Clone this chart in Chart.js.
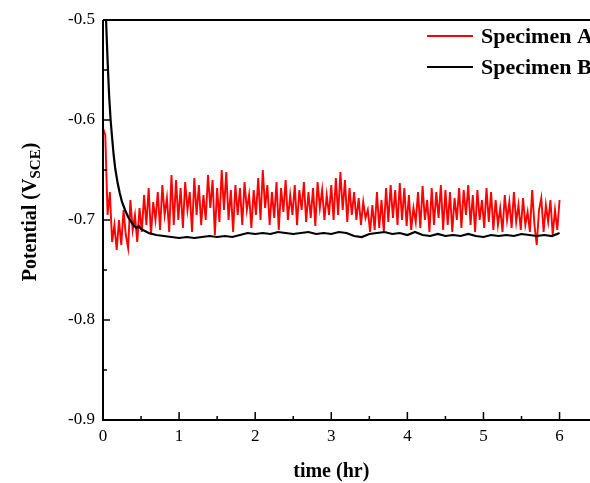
<!DOCTYPE html>
<html>
<head>
<meta charset="utf-8">
<script src="https://cdn.jsdelivr.net/npm/chart.js@4"></script>
<style>
  html, body { margin: 0; padding: 0; background: #fff; }
  canvas { display: block; }
</style>
</head>
<body>
<canvas id="chart" width="590" height="483"></canvas>
<script>

// Specimen A, sampled every 0.03 hr from 0 to 6 hr
const timeStepA = 0.03;
const potentialA = [
  -0.608, -0.615, -0.695, -0.672, -0.722, -0.705, -0.730, -0.700, -0.725, -0.690,
  -0.715, -0.728, -0.680, -0.710, -0.695, -0.722, -0.688, -0.712, -0.675, -0.705,
  -0.668, -0.715, -0.682, -0.700, -0.672, -0.710, -0.665, -0.695, -0.678, -0.712,
  -0.655, -0.705, -0.660, -0.700, -0.668, -0.708, -0.662, -0.690, -0.672, -0.712,
  -0.658, -0.695, -0.665, -0.705, -0.675, -0.700, -0.655, -0.688, -0.660, -0.715,
  -0.668, -0.702, -0.650, -0.690, -0.652, -0.700, -0.670, -0.712, -0.665, -0.695,
  -0.668, -0.705, -0.662, -0.690, -0.675, -0.708, -0.670, -0.695, -0.658, -0.700,
  -0.650, -0.688, -0.665, -0.705, -0.672, -0.698, -0.662, -0.710, -0.668, -0.692,
  -0.660, -0.700, -0.675, -0.695, -0.665, -0.705, -0.670, -0.690, -0.662, -0.702,
  -0.672, -0.698, -0.668, -0.706, -0.662, -0.688, -0.670, -0.700, -0.675, -0.695,
  -0.665, -0.700, -0.658, -0.695, -0.652, -0.690, -0.660, -0.702, -0.668, -0.695,
  -0.672, -0.700, -0.678, -0.705, -0.682, -0.698, -0.690, -0.712, -0.685, -0.710,
  -0.672, -0.708, -0.680, -0.712, -0.668, -0.702, -0.665, -0.698, -0.670, -0.705,
  -0.663, -0.700, -0.668, -0.706, -0.675, -0.710, -0.688, -0.702, -0.672, -0.708,
  -0.666, -0.700, -0.680, -0.712, -0.668, -0.705, -0.672, -0.698, -0.665, -0.710,
  -0.670, -0.705, -0.672, -0.712, -0.678, -0.700, -0.668, -0.708, -0.670, -0.695,
  -0.665, -0.705, -0.675, -0.712, -0.670, -0.700, -0.680, -0.708, -0.668, -0.702,
  -0.672, -0.710, -0.680, -0.705, -0.688, -0.712, -0.675, -0.700, -0.682, -0.708,
  -0.672, -0.702, -0.685, -0.710, -0.678, -0.705, -0.692, -0.712, -0.670, -0.705,
  -0.725, -0.690, -0.678, -0.712, -0.685, -0.702, -0.680, -0.715, -0.690, -0.710,
  -0.680
];

// Specimen B
const timeB = [
  0.04, 0.06, 0.08, 0.10, 0.12, 0.14, 0.16, 0.19, 0.22, 0.25,
  0.29, 0.33, 0.37, 0.41, 0.44, 0.47, 0.50, 0.55, 0.60, 0.70,
  0.80, 0.90, 1.00, 1.10, 1.20, 1.30, 1.40, 1.50, 1.60, 1.70,
  1.80, 1.90, 2.00, 2.10, 2.20, 2.30, 2.40, 2.50, 2.60, 2.70,
  2.80, 2.90, 3.00, 3.10, 3.20, 3.30, 3.40, 3.50, 3.60, 3.70,
  3.80, 3.90, 4.00, 4.10, 4.20, 4.30, 4.40, 4.50, 4.60, 4.70,
  4.80, 4.90, 5.00, 5.10, 5.20, 5.30, 5.40, 5.50, 5.60, 5.70,
  5.80, 5.90, 6.00
];
const potentialB = [
  -0.500, -0.540, -0.575, -0.600, -0.618, -0.635, -0.648, -0.662, -0.673, -0.682,
  -0.690, -0.697, -0.702, -0.706, -0.708, -0.706, -0.709, -0.711, -0.713, -0.715,
  -0.716, -0.717, -0.718, -0.717, -0.718, -0.717, -0.716, -0.717, -0.716, -0.717,
  -0.715, -0.713, -0.714, -0.713, -0.714, -0.712, -0.713, -0.714, -0.713, -0.712,
  -0.714, -0.713, -0.714, -0.712, -0.713, -0.716, -0.717, -0.714, -0.713, -0.712,
  -0.714, -0.713, -0.715, -0.712, -0.715, -0.716, -0.714, -0.716, -0.715, -0.716,
  -0.714, -0.716, -0.717, -0.715, -0.716, -0.715, -0.716, -0.714, -0.715, -0.716,
  -0.715, -0.716, -0.713
];

const seriesNames = ['Specimen A', 'Specimen B'];
const seriesColors = ['#ff0000', '#000000'];
const xRange = [0, 6.4];
const yRange = [-0.9, -0.5];

const serif = "'Liberation Serif', 'Times New Roman', serif";

let dataA = [];
for (let i = 0; i < potentialA.length; i++) {
    dataA.push({x: i * timeStepA, y: potentialA[i]});
}
let dataB = [];
for (let i = 0; i < timeB.length; i++) {
    dataB.push({x: timeB[i], y: potentialB[i]});
}

// frame, inward ticks, titles and legend
const decorations = {
    id: 'decorations',
    afterDatasetsDraw(chart) {
        const c = chart.ctx;
        const a = chart.chartArea;
        const xs = chart.scales.x;
        const ys = chart.scales.y;
        c.save();
        c.strokeStyle = '#000';
        c.lineWidth = 2;
        c.beginPath();
        c.moveTo(a.left, a.top);
        c.lineTo(a.left, a.bottom);
        c.lineTo(a.right, a.bottom);
        c.moveTo(a.left, a.top);
        c.lineTo(a.right, a.top);
        c.stroke();

        c.lineWidth = 1.5;
        c.beginPath();
        for (let v = 0; v <= 6; v += 0.5) {
            const px = xs.getPixelForValue(v);
            const len = Number.isInteger(v) ? 8 : 4;
            c.moveTo(px, a.bottom);
            c.lineTo(px, a.bottom - len);
        }
        for (let k = 0; k <= 8; k++) {
            const v = yRange[0] + k * 0.05;
            const py = ys.getPixelForValue(v);
            const len = k % 2 === 0 ? 7 : 4;
            c.moveTo(a.left, py);
            c.lineTo(a.left + len, py);
        }
        c.stroke();

        // x title
        c.fillStyle = '#000';
        c.font = 'bold 20px ' + serif;
        c.textAlign = 'center';
        c.textBaseline = 'alphabetic';
        const midX = (xs.getPixelForValue(0) + xs.getPixelForValue(6)) / 2;
        c.fillText('time (hr)', midX, 477);

        // y title with subscript
        c.translate(36, 212);
        c.rotate(-Math.PI / 2);
        const big = 'bold 20px ' + serif;
        const small = 'bold 15px ' + serif;
        c.font = big;
        const w1 = c.measureText('Potential (V').width;
        const w3 = c.measureText(')').width;
        c.font = small;
        const w2 = c.measureText('SCE').width;
        let x0 = -(w1 + w2 + w3) / 2;
        c.textAlign = 'left';
        c.font = big;
        c.fillText('Potential (V', x0, 0);
        c.font = small;
        c.fillText('SCE', x0 + w1, 4);
        c.font = big;
        c.fillText(')', x0 + w1 + w2, 0);
        c.restore();

        // legend
        c.save();
        c.font = 'bold 22px ' + serif;
        c.textAlign = 'left';
        c.textBaseline = 'alphabetic';
        const rows = [36, 67];
        for (let i = 0; i < seriesNames.length; i++) {
            c.strokeStyle = seriesColors[i];
            c.lineWidth = 2;
            c.beginPath();
            c.moveTo(427, rows[i]);
            c.lineTo(473, rows[i]);
            c.stroke();
            c.fillStyle = '#000';
            c.fillText(seriesNames[i], 481, rows[i] + 7);
        }
        c.restore();
    }
};

let config = {
    type: 'scatter',
    data: {
        datasets: [
            {
                label: seriesNames[1],
                data: dataB,
                showLine: true,
                borderColor: seriesColors[1],
                borderWidth: 2.2,
                pointRadius: 0,
                tension: 0
            },
            {
                label: seriesNames[0],
                data: dataA,
                showLine: true,
                borderColor: seriesColors[0],
                borderWidth: 1.9,
                pointRadius: 0,
                tension: 0
            }
        ]
    },
    options: {
        responsive: false,
        animation: false,
        layout: {
            padding: {top: 20, right: 0, left: 0, bottom: 0}
        },
        plugins: {
            legend: {display: false},
            tooltip: {enabled: false}
        },
        scales: {
            x: {
                type: 'linear',
                min: xRange[0],
                max: xRange[1],
                grid: {display: false, drawTicks: false},
                border: {display: false},
                ticks: {
                    stepSize: 1,
                    includeBounds: false,
                    padding: 6,
                    color: '#000',
                    font: {family: serif, size: 17},
                    callback: (v) => v
                },
                afterFit(scale) { scale.height = 63; }
            },
            y: {
                min: yRange[0],
                max: yRange[1],
                grid: {display: false, drawTicks: false},
                border: {display: false},
                ticks: {
                    stepSize: 0.1,
                    padding: 8,
                    color: '#000',
                    font: {family: serif, size: 17},
                    callback: (v) => v.toFixed(1)
                },
                afterFit(scale) { scale.width = 103; }
            }
        }
    },
    plugins: [decorations]
};

new Chart(document.getElementById('chart'), config);

</script>
</body>
</html>
